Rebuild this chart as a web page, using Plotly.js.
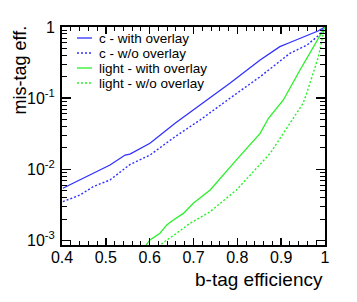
<!DOCTYPE html>
<html><head><meta charset="utf-8">
<script src="https://cdn.plot.ly/plotly-3.0.1.min.js"></script>
<style>html,body{margin:0;padding:0;background:#fff}#plot{width:357px;height:302px}</style>
</head><body><div id="plot"></div>
<script>
// Series values (b-tag efficiency vs mis-tag efficiency)
const cWithX = [0.402,0.441,0.471,0.5095,0.544,0.555,0.6007,0.635,0.658,0.715,0.783,0.852,0.897,0.920,0.943,0.984,1.0];
const cWithY = [0.00543,0.0071,0.00881,0.01153,0.0159,0.0164,0.0233,0.0339,0.0444,0.0802,0.162,0.344,0.529,0.606,0.694,0.879,1.0];

const cWoX = [0.402,0.441,0.471,0.5095,0.555,0.6007,0.658,0.715,0.783,0.852,0.920,0.959,0.984,1.0];
const cWoY = [0.00352,0.00437,0.00571,0.0071,0.0117,0.0159,0.0288,0.0494,0.0997,0.2005,0.427,0.559,0.748,1.0];

const lWithX = [0.589,0.6007,0.6235,0.639,0.654,0.677,0.6995,0.738,0.798,0.852,0.871,0.905,0.943,0.985,1.0];
const lWithY = [0.00082,0.00102,0.00127,0.00166,0.00195,0.00241,0.00334,0.00514,0.0136,0.0321,0.0522,0.0944,0.249,0.694,1.0];

const lWoX = [0.6195,0.639,0.6616,0.692,0.738,0.798,0.875,0.928,0.950,0.958,0.985,0.996,1.0];
const lWoY = [0.00082,0.00102,0.00127,0.00175,0.00255,0.00514,0.0168,0.0522,0.0848,0.116,0.383,0.816,1.0];

const seriesNames = ["c - with overlay","c - w/o overlay","light - with overlay","light - w/o overlay"];
const yTickVals = [1,0.1,0.01,0.001];
const yTickText = ["1","10<sup>-1</sup>","10<sup>-2</sup>","10<sup>-3</sup>"];
const yMinorVals = [];
[0.001,0.01,0.1].forEach(d=>{for(let k=2;k<=9;k++) yMinorVals.push(d*k);});

const blue = "rgb(48,48,255)", green = "rgb(40,240,40)";
const styles = [
  {color:blue,width:1.3,dash:"solid"},
  {color:blue,width:1.4,dash:"2px,2px"},
  {color:green,width:1.3,dash:"solid"},
  {color:green,width:1.4,dash:"2px,2px"}
];
const xs = [cWithX,cWoX,lWithX,lWoX], ys = [cWithY,cWoY,lWithY,lWoY];
const traces = xs.map((x,i)=>({x:x,y:ys[i],name:seriesNames[i],mode:"lines",line:styles[i],showlegend:false}));

const font = {family:"Liberation Sans, Arial, sans-serif",color:"#000"};
// Legend drawn inside the frame (compact rows like the reference)
const legendRowsY = [0.9495,0.8807,0.8119,0.7431];
const legShapes = [], legAnn = [];
seriesNames.forEach((n,i)=>{
  legShapes.push({type:"line",xref:"paper",yref:"paper",x0:0.057,x1:0.114,y0:legendRowsY[i],y1:legendRowsY[i],
                  line:{color:styles[i].color,width:styles[i].width,dash:styles[i].dash}});
  legAnn.push({text:n,xref:"paper",yref:"paper",x:0.138,y:legendRowsY[i],xanchor:"left",yanchor:"middle",
               borderpad:0,showarrow:false,font:{family:font.family,size:13.5,color:"#000"}});
});

const layout = {
  width:357,height:302,
  margin:{l:62,r:32,t:27,b:57},
  paper_bgcolor:"#fff",plot_bgcolor:"#fff",
  font:font,
  showlegend:false,
  xaxis:{range:[0.4,1],dtick:0.1,tick0:0.4,ticks:"inside",ticklen:7,tickwidth:1.5,tickcolor:"#000",
         showline:true,linewidth:2,linecolor:"#000",mirror:"allticks",showgrid:false,zeroline:false,
         tickfont:{family:font.family,size:16,color:"#000"},ticklabelstandoff:-3,
         minor:{dtick:0.02,ticks:"inside",ticklen:4,tickwidth:1,tickcolor:"#000",showgrid:false}},
  yaxis:{type:"log",range:[-3.062,0],tickvals:yTickVals,ticktext:yTickText,ticks:"inside",ticklen:9,tickwidth:1.5,
         tickcolor:"#000",showline:true,linewidth:2,linecolor:"#000",mirror:"allticks",showgrid:false,zeroline:false,
         tickfont:{family:font.family,size:16,color:"#000"},ticklabelstandoff:2,
         minor:{tickvals:yMinorVals,ticks:"inside",ticklen:5,tickwidth:1,tickcolor:"#000",showgrid:false}},
  shapes:legShapes,
  annotations:[
    {text:"b-tag efficiency",xref:"paper",yref:"paper",x:1,y:0,xanchor:"right",yanchor:"top",yshift:-22,
     showarrow:false,font:{family:font.family,size:19,color:"#000"}},
    {text:"mis-tag eff.",xref:"paper",yref:"paper",x:0,y:1,xanchor:"right",yanchor:"top",xshift:-31,yshift:3,
     textangle:-90,showarrow:false,font:{family:font.family,size:18,color:"#000"}}
  ].concat(legAnn)
};
Plotly.newPlot("plot",traces,layout,{staticPlot:true,displayModeBar:false});
</script></body></html>
